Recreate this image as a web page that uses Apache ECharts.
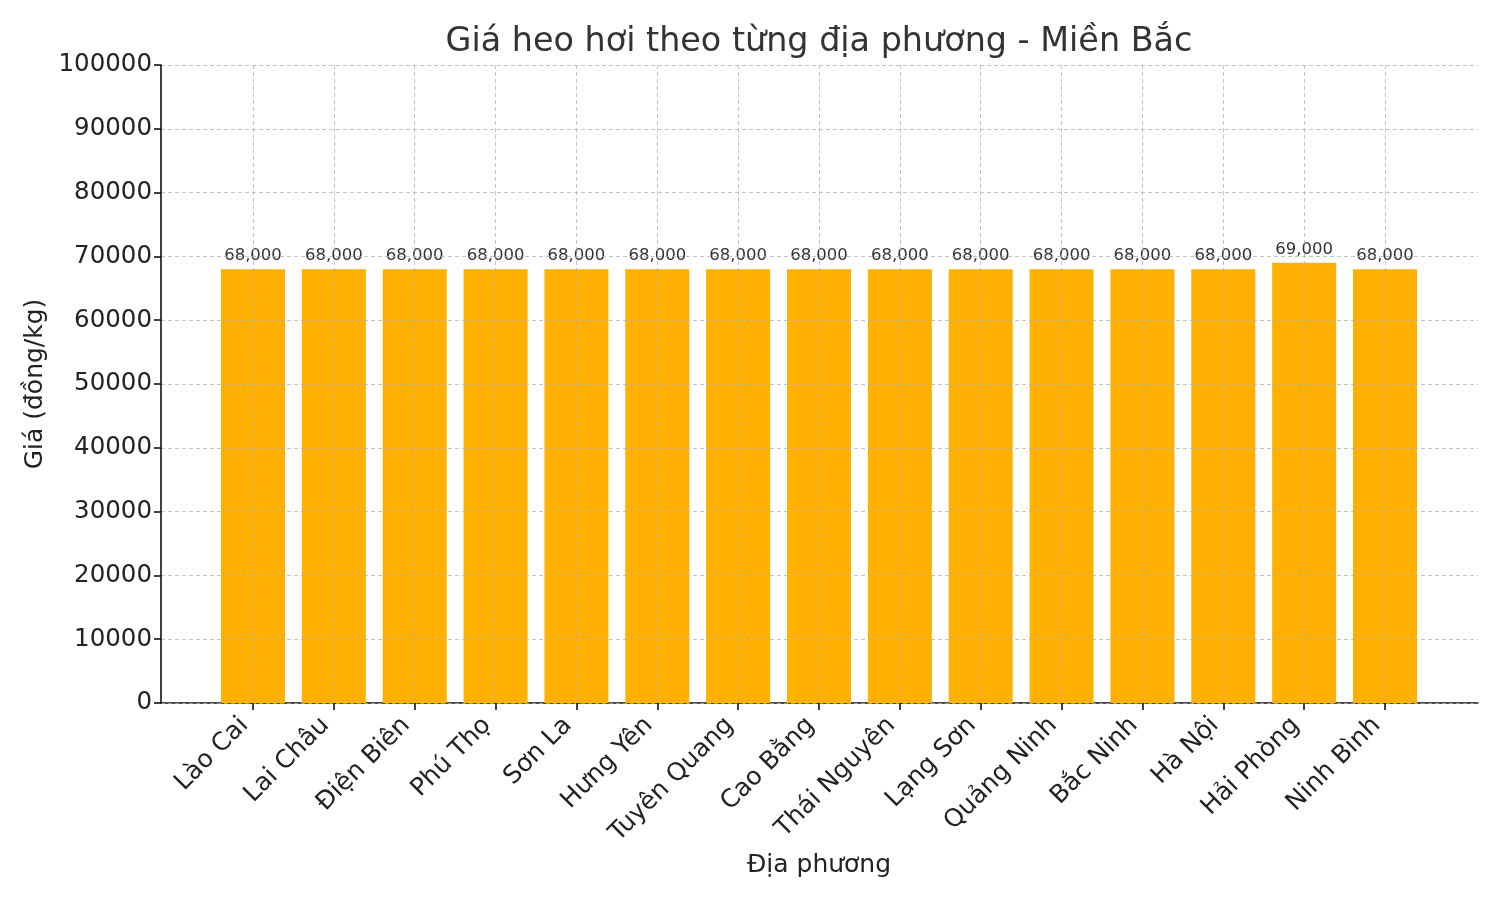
<!DOCTYPE html>
<html>
<head>
<meta charset="utf-8">
<script src="https://cdn.jsdelivr.net/npm/echarts@6/dist/echarts.min.js"></script>
<style>html,body{margin:0;padding:0;background:#fff}#c{width:1500px;height:900px}</style>
</head>
<body>
<div id="c"></div>
<script>
const categories = ['Lào Cai','Lai Châu','Điện Biên','Phú Thọ','Sơn La','Hưng Yên','Tuyên Quang','Cao Bằng','Thái Nguyên','Lạng Sơn','Quảng Ninh','Bắc Ninh','Hà Nội','Hải Phòng','Ninh Bình'];
const prices = [68000,68000,68000,68000,68000,68000,68000,68000,68000,68000,68000,68000,68000,69000,68000];
const yTicks = {min:0, max:100000, interval:10000};
const titleText = 'Giá heo hơi theo từng địa phương - Miền Bắc';
const yName = 'Giá (đồng/kg)';
const xName = 'Địa phương';

const FONT = 'DejaVu Sans';
const gridLine = {show:true, lineStyle:{color:'rgba(176,176,176,0.75)', type:[4,3], width:1}};
const chart = echarts.init(document.getElementById('c'), null, {renderer:'canvas'});
chart.setOption({
  animation:false,
  backgroundColor:'#fff',
  textStyle:{fontFamily:FONT},
  title:{text:titleText, left:814, top:21, textAlign:'center',
    textStyle:{fontFamily:FONT, fontSize:33.4, fontWeight:'normal', color:'#333'}},
  grid:[
    {left:161, right:22, top:65, bottom:197},
    {left:253, right:115, top:65, bottom:197}
  ],
  xAxis:[
    {gridIndex:0, type:'value', min:0, max:1, axisLine:{show:true, onZero:false, lineStyle:{color:'#111', width:1.6}},
     axisTick:{show:false}, axisLabel:{show:false}, splitLine:{show:false}},
    {gridIndex:1, type:'category', data:categories, boundaryGap:false, z:3,
     axisLine:{show:false},
     axisTick:{show:true, inside:false, length:7, lineStyle:{color:'#111', width:1.6}},
     axisLabel:{rotate:45, fontSize:25, color:'#222', margin:10, fontFamily:FONT, interval:0, padding:[0,12,0,0]},
     splitLine:gridLine,
     name:xName, nameLocation:'middle', nameGap:149,
     nameTextStyle:{fontSize:25, color:'#222', fontFamily:FONT, verticalAlign:'top'}}
  ],
  yAxis:[
    {gridIndex:0, type:'value', min:yTicks.min, max:yTicks.max, interval:yTicks.interval, z:3,
     axisLine:{show:true, lineStyle:{color:'#111', width:1.6}},
     axisTick:{show:true, length:7, lineStyle:{color:'#111', width:1.6}},
     axisLabel:{fontSize:24.5, color:'#222', margin:9, fontFamily:FONT, formatter:v=>String(v)},
     splitLine:gridLine,
     name:yName, nameLocation:'middle', nameGap:103,
     nameTextStyle:{fontSize:25, color:'#222', fontFamily:FONT}},
    {gridIndex:1, type:'value', min:yTicks.min, max:yTicks.max, interval:yTicks.interval, show:false, splitLine:{show:false}}
  ],
  series:[{
    type:'bar', xAxisIndex:1, yAxisIndex:1, data:prices, barWidth:64, clip:false,
    itemStyle:{color:'#FFB000'},
    label:{show:true, position:'top', distance:5, fontSize:16.5, color:'#333', fontFamily:FONT,
      formatter:p=>p.value.toLocaleString('en-US')}
  }]
});
</script>
</body>
</html>
